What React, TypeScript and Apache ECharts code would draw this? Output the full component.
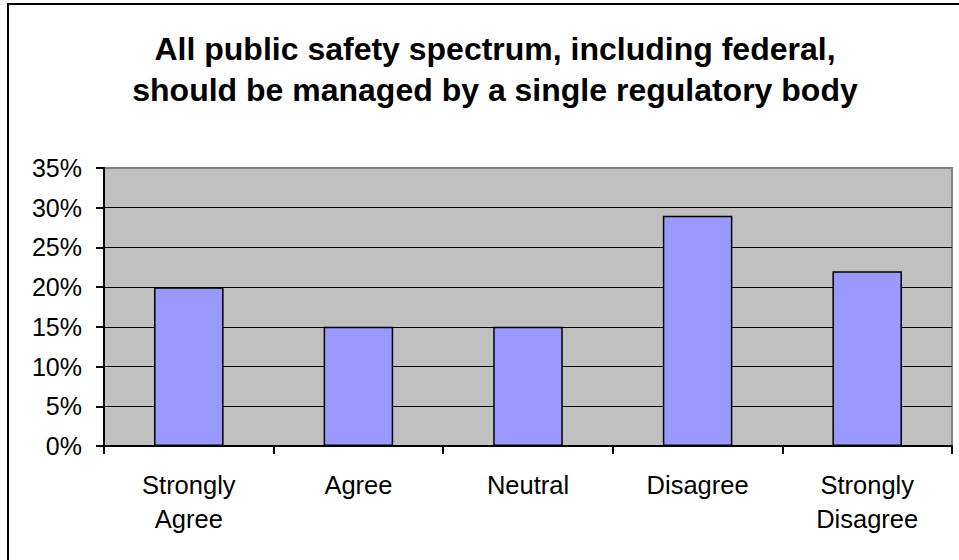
import React, { useEffect, useRef } from "react";
import * as echarts from "echarts";

const categories = ["Strongly\nAgree", "Agree", "Neutral", "Disagree", "Strongly\nDisagree"];
const values = [20, 15, 15, 29, 22];
const titleLines = [
  "All public safety spectrum, including federal,",
  "should be managed by a single regulatory body",
];
const yMin = 0;
const yMax = 35;
const yStep = 5;

const FONT = 'Arial, "Liberation Sans", Helvetica, sans-serif';

export default function App() {
  const ref = useRef<HTMLDivElement>(null);
  useEffect(() => {
    if (!ref.current) return;
    const chart = echarts.init(ref.current, undefined, { renderer: "svg" });
    chart.setOption({
      animation: false,
      backgroundColor: "#ffffff",
      title: {
        text: titleLines.join("\n"),
        left: 490,
        top: 23,
        textAlign: "center",
        textStyle: {
          fontFamily: FONT,
          fontWeight: "bold",
          fontSize: 32,
          lineHeight: 41,
          color: "#000000",
        },
      },
      grid: {
        left: 104,
        right: 7,
        top: 168,
        bottom: 114,
        show: true,
        backgroundColor: "#C0C0C0",
        borderColor: "#808080",
        borderWidth: 2,
      },
      xAxis: {
        type: "category",
        data: categories,
        axisLine: { show: true, lineStyle: { color: "#000000", width: 2 } },
        axisTick: { show: true, length: 8, lineStyle: { color: "#000000", width: 2 } },
        axisLabel: {
          fontFamily: FONT,
          fontSize: 25.5,
          lineHeight: 34,
          color: "#000000",
          margin: 22,
          interval: 0,
        },
      },
      yAxis: {
        type: "value",
        min: yMin,
        max: yMax,
        interval: yStep,
        axisLine: { show: true, lineStyle: { color: "#000000", width: 2 } },
        axisTick: { show: true, length: 8, lineStyle: { color: "#000000", width: 2 } },
        axisLabel: {
          fontFamily: FONT,
          fontSize: 25,
          color: "#000000",
          margin: 22,
          formatter: "{value}%",
        },
        splitLine: {
          show: true,
          showMinLine: false,
          showMaxLine: false,
          lineStyle: { color: "#000000", width: 1 },
        },
      },
      series: [
        {
          type: "bar",
          data: values,
          barWidth: "41%",
          itemStyle: {
            color: "#9999FF",
            borderColor: "#000000",
            borderWidth: 1.5,
          },
        },
      ],
      graphic: [
        {
          type: "line",
          shape: { x1: 8, y1: 4, x2: 8, y2: 560 },
          style: { stroke: "#000000", lineWidth: 2 },
          z: 100,
        },
        {
          type: "line",
          shape: { x1: 7, y1: 4, x2: 959, y2: 4 },
          style: { stroke: "#000000", lineWidth: 2 },
          z: 100,
        },
      ],
    });
    return () => chart.dispose();
  }, []);
  return (
    <div
      ref={ref}
      style={{ position: "fixed", left: 0, top: 0, width: 959, height: 560 }}
    />
  );
}
